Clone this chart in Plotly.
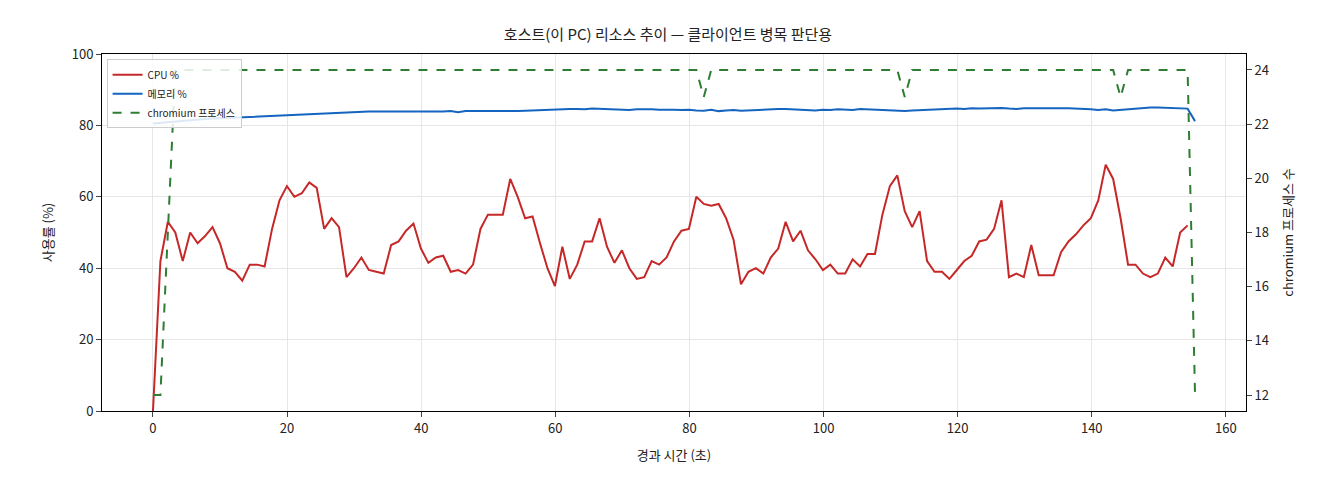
import numpy as np
import plotly.graph_objects as go

# sample times (s): regular sampling grid, 141 samples
elapsed = np.round(np.arange(141) * 1.11, 2)

cpu = [0, 42, 53, 50, 42, 50, 47, 49, 51.5, 47, 40, 39, 36.5, 41, 41, 40.5, 51, 59, 63, 60,
       61, 64, 62.5, 51, 54, 51.5, 37.5, 40, 43, 39.5, 39, 38.5, 46.5, 47.5, 50.5, 52.5, 45.5, 41.5, 43, 43.5,
       39, 39.5, 38.5, 41, 51, 55, 55, 55, 65, 60, 54, 54.5, 47, 40, 35, 46, 37, 41, 47.5, 47.5,
       54, 46, 41.5, 45, 40, 37, 37.5, 42, 41, 43, 47.5, 50.5, 51, 60, 58, 57.5, 58, 54, 48, 35.5,
       39, 40, 38.5, 43, 45.5, 53, 47.5, 50.5, 45, 42.5, 39.5, 41, 38.5, 38.5, 42.5, 40.5, 44, 44, 55, 63,
       66, 56, 51.5, 56, 42, 39, 39, 37, 39.5, 42, 43.5, 47.5, 48, 51, 59, 37.5, 38.5, 37.5, 46.5, 38,
       38, 38, 44.5, 47.5, 49.5, 52, 54, 59, 69, 65, 54, 41, 41, 38.5, 37.5, 38.5, 43, 40.5, 50, 52]

mem = [80.5, 80.7, 80.9, 81.1, 81.3, 81.5, 81.6, 81.8, 81.9, 82.0, 82.1, 82.2, 82.3, 82.4, 82.5, 82.6, 82.7, 82.8, 82.9, 83.0,
       83.0, 83.1, 83.2, 83.3, 83.5, 83.6, 83.6, 83.7, 83.8, 83.9, 83.9, 83.9, 83.8, 83.9, 83.9, 83.7, 83.7, 83.8, 83.9, 83.9,
       84.0, 83.7, 84.0, 84.0, 84.0, 83.9, 83.8, 84.0, 84.0, 84.0, 84.1, 84.2, 84.4, 84.4, 84.5, 84.6, 84.6, 84.6, 84.5, 84.7,
       84.6, 84.4, 84.5, 84.4, 84.3, 84.5, 84.6, 84.5, 84.4, 84.5, 84.4, 84.3, 84.4, 84.2, 84.1, 84.4, 84.0, 84.2, 84.3, 84.1,
       84.2, 84.5, 84.6, 84.7, 84.6, 84.6, 84.5, 84.4, 84.3, 84.2, 84.4, 84.3, 84.5, 84.4, 84.3, 84.6, 84.5, 84.5, 84.4, 84.1,
       84.2, 84.0, 84.2, 84.3, 84.4, 84.5, 84.6, 84.5, 84.7, 84.6, 84.8, 84.7, 84.8, 84.7, 84.9, 84.7, 84.6, 84.8, 84.7, 84.8,
       84.8, 84.9, 84.8, 84.8, 84.7, 84.8, 84.5, 84.3, 84.5, 84.2, 84.4, 84.6, 84.8, 84.9, 85.0, 85.0, 84.9, 84.9, 84.8, 84.7, 81.2]

proc = [12, 12, 18] + [24] * 71 + [23] + [24] * 26 + [23] + [24] * 28 + [23] + [24] * 9 + [12]
proc = proc[:141]

fig = go.Figure()
fig.add_trace(go.Scatter(x=elapsed, y=cpu, name="CPU %", mode="lines",
                         line=dict(color="#c62828", width=2)))
fig.add_trace(go.Scatter(x=elapsed, y=mem, name="메모리 %", mode="lines",
                         line=dict(color="#1565c0", width=2)))
fig.add_trace(go.Scatter(x=elapsed, y=proc, name="chromium 프로세스", mode="lines", yaxis="y2",
                         line=dict(color="#2e7d32", width=2, dash="dash")))

font = "Noto Sans CJK KR"
fig.update_layout(
    width=1320, height=480, plot_bgcolor="white", paper_bgcolor="white",
    font=dict(family=font, size=13, color="#222"),
    margin=dict(l=94, r=82, t=46, b=77, autoexpand=False),
    title=dict(text="호스트(이 PC) 리소스 추이 — 클라이언트 병목 판단용", x=0.5, y=0.955,
               xanchor="center", font=dict(size=15)),
    xaxis=dict(range=[-7.6, 163], tickvals=[0, 20, 40, 60, 80, 100, 120, 140, 160], automargin=False,
               showgrid=True, gridcolor="#e6e6e6", showline=True, linecolor="black", mirror=True,
               ticks="outside", ticklen=5, zeroline=False,
               title=dict(text="경과 시간 (초)", font=dict(size=13))),
    yaxis=dict(range=[0, 100], tickvals=[0, 20, 40, 60, 80, 100], showgrid=True, gridcolor="#e6e6e6",
               showline=True, linecolor="black", ticks="outside", ticklen=5, zeroline=False, automargin=False,
               title=dict(text="사용률 (%)", font=dict(size=13))),
    yaxis2=dict(range=[11.41, 24.59], overlaying="y", side="right", tickvals=[12, 14, 16, 18, 20, 22, 24],
                showgrid=False, showline=True, linecolor="black", ticks="outside", ticklen=5, zeroline=False,
                automargin=False, title=dict(text="chromium 프로세스 수", font=dict(size=13))),
    legend=dict(x=0.004, y=0.985, xanchor="left", yanchor="top", bgcolor="rgba(255,255,255,0.85)",
                bordercolor="#ccc", borderwidth=1, font=dict(size=10)),
)
fig.write_html("out.html")
